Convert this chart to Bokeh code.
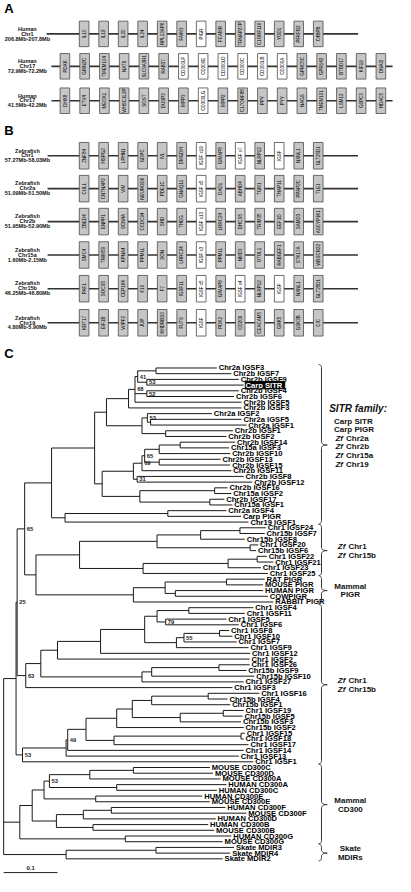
import math
from bokeh.plotting import figure
from bokeh.models import Range1d
from bokeh.layouts import column
from bokeh.core.properties import value
from bokeh.embed import file_html
from bokeh.resources import INLINE

# ---------------- Panel A data (human loci) ----------------
A_row_labels = [["Human", "Chr1", "206.8Mb-207.8Mb"],
                ["Human", "Chr17", "72.9Mb-72.2Mb"],
                ["Human", "Chr17", "41.5Mb-42.2Mb"]]
A_genes = [
    ["IL10", "IL19", "IL20", "IL24", "RPL13AP6", "FAIM3", "PIGR", "FCAMR",
     "TRNAP27P", "C1ORF116", "YOD1", "PFKFB2", "C4BPB"],
    ["PDXK", "GRIN2C", "TMEM104", "NAT9", "SLC9A3R1", "RAB37", "CD300LF", "CD300E",
     "CD300LD", "CD300C", "CD300LB", "CD300A", "GPRC5C", "GPR142", "BTBD17", "KIF19", "DNAI2"],
    ["DHX8", "ETV4", "MEOX1", "WHSC1L2P", "SOST", "DUSP3", "MPP3", "CD300LG", "MPP2",
     "C17ORF88", "PPY", "PYY", "NAGS", "TMEM101", "LSM12", "G6PC3", "HDAC5"],
]
A_white = [["PIGR"],
           ["CD300LF", "CD300E", "CD300LD", "CD300C", "CD300LB", "CD300A"],
           ["CD300LG"]]

# ---------------- Panel B data (zebrafish loci) ----------------
B_row_labels = [["Zebrafish", "Chr1", "57.27Mb-58.03Mb"],
                ["Zebrafish", "Chr2a", "51.09Mb-51.50Mb"],
                ["Zebrafish", "Chr2b", "51.95Mb-52.90Mb"],
                ["Zebrafish", "Chr15a", "1.60Mb-2.15Mb"],
                ["Zebrafish", "Chr15b", "46.25Mb-46.80Mb"],
                ["Zebrafish", "Chr19", "4.80Mb-5.90Mb"]]
B_genes = [
    ["ZNF84", "HSPG2", "LPHN1", "GDPC", "IVL", "DMGDH", "IGSF x19", "GIMAP8", "IGSF x7",
     "NLRP12", "IGSF", "NXNL1", "GLT25D1"],
    ["CUL1", "CNTNAP2", "VIM", "NEUROD6", "PDE1C", "GNAQ11", "IGSF x5", "DAD1", "ABHD4",
     "TGM1", "THAP11", "PPAP2C", "TLE1"],
    ["ZBED4", "ENPP1", "SCN4A", "CCDC94", "SHD", "THEG", "IGSF x13", "LRRC24", "DHCS5",
     "TRIM35", "EEF1D", "SAMD3", "ASCYP1K1"],
    ["SMC4", "TRIM59", "KPNA4", "PPM1L", "SON", "LRRC24", "IGSF x3", "PPM1L", "NMD3",
     "OTOL1", "RABGEF1", "STK17A", "WBSCR22"],
    ["PAF1", "SOCS5", "CEP164", "F10", "F7", "IGSF11", "IGSF x5", "GIMAP8", "IGSF x4",
     "NLRP12", "IGSF", "NXNL1", "GLT25D1"],
    ["KRT17", "EIF1B", "WIPF2", "JUP", "KHDRBS3", "FUT9", "IGSF", "PDK2", "CD209",
     "CEACAM5", "GRK5", "GSK3B", "CIC"],
]
B_white = [["IGSF x19", "IGSF x7", "IGSF"], ["IGSF x5"], ["IGSF x13"], ["IGSF x3"],
           ["IGSF x5", "IGSF x4", "IGSF"], ["IGSF"]]

# ---------------- Panel C data (neighbour-joining tree) ----------------
leaf_names = [
    "Chr2a IGSF3", "Chr2b IGSF7", "Chr2b IGSF9", "Carp SITR", "Chr2b IGSF4", "Chr2b IGSF6",
    "Chr2b IGSF5", "Chr2b IGSF3",
    "Chr2a IGSF2", "Chr2a IGSF5", "Chr2a IGSF1", "Chr2b IGSF1", "Chr2b IGSF2",
    "Chr2b IGSF14", "Chr15a IGSF3", "Chr2b IGSF10", "Chr2b IGSF13", "Chr2b IGSF15",
    "Chr2b IGSF11", "Chr2b IGSF8", "Chr2b IGSF12",
    "Chr2b IGSF16", "Chr15a IGSF2", "Chr2b IGSF17", "Chr15a IGSF1", "Chr2a IGSF4",
    "Carp PIGR", "Chr19 IGSF1",
    "Chr1 IGSF24", "Chr15b IGSF7", "Chr15b IGSF8", "Chr1 IGSF20", "Chr15b IGSF6",
    "Chr1 IGSF22", "Chr1 IGSF21", "Chr1 IGSF23", "Chr1 IGSF25",
    "RAT PIGR", "MOUSE PIGR", "HUMAN PIGR", "COWPIGR", "RABBIT PIGR",
    "Chr1 IGSF4", "Chr1 IGSF11", "Chr1 IGSF5", "Chr1 IGSF6", "Chr1 IGSF8", "Chr1 IGSF10",
    "Chr1 IGSF7", "Chr1 IGSF9", "Chr1 IGSF12", "Chr1 IGSF2",
    "Chr1 IGSF26", "Chr15b IGSF9", "Chr15b IGSF10", "Chr1 IGSF27", "Chr1 IGSF3",
    "Chr1 IGSF16", "Chr15b IGSF4", "Chr15b IGSF1", "Chr1 IGSF19", "Chr15b IGSF5",
    "Chr15b IGSF3", "Chr15b IGSF2",
    "Chr1 IGSF15", "Chr1 IGSF18", "Chr1 IGSF17", "Chr1 IGSF14", "Chr1 IGSF13", "Chr1 IGSF1",
    "MOUSE CD300C", "MOUSE CD300D", "MOUSE CD300A", "HUMAN CD300A", "HUMAN CD300C",
    "HUMAN CD300E", "MOUSE CD300E",
    "HUMAN CD300F", "MOUSE CD300F", "HUMAN CD300D", "HUMAN CD300B", "MOUSE CD300B",
    "HUMAN CD300G", "MOUSE CD300G",
    "Skate MDIR3", "Skate MDIR4", "Skate MDIR2"]
leaf_depth = [
    0.396, 0.423, 0.437, 0.446, 0.437, 0.428, 0.442, 0.442,
    0.387, 0.442, 0.451, 0.426, 0.414,
    0.430, 0.419, 0.421, 0.403, 0.421, 0.423, 0.446, 0.462,
    0.416, 0.423, 0.410, 0.425, 0.414, 0.441, 0.455,
    0.487, 0.485, 0.448, 0.473, 0.469, 0.489, 0.501, 0.478, 0.491,
    0.485, 0.482, 0.482, 0.491, 0.501,
    0.464, 0.448, 0.414, 0.437, 0.419, 0.425, 0.433, 0.455, 0.458, 0.457,
    0.457, 0.451, 0.466, 0.446, 0.425,
    0.475, 0.416, 0.421, 0.446, 0.444, 0.441, 0.446,
    0.448, 0.446, 0.455, 0.446, 0.437, 0.464,
    0.383, 0.389, 0.403, 0.414, 0.396, 0.369, 0.383,
    0.412, 0.451, 0.394, 0.380, 0.391, 0.423, 0.407,
    0.428, 0.421, 0.407]
leaf_parent = [
    "n1a", "n1a", "n53a", "n53a", "n52", "n52", "n68", "nU",
    "n53b", "n2a51", "n2a51", "n2b12", "n2b12",
    "n187a", "n187a", "n165a", "n1315", "n1315", "n69", "n31", "n31",
    "n223", "n223", "n218", "n218", "n174", "n174", "npigr",
    "n249", "n249", "n208", "n260", "n260", "n267", "n267", "n237", "n148a",
    "nmp235", "nmp235", "nmp182", "nmp182", "nmp",
    "n196", "n196", "n79", "n79", "n228", "n228", "n55", "n183", "n104", "n59",
    "n227", "n227", "n157a", "n147b", "n63",
    "n216", "n216", "n157b", "n232", "n232", "n187b", "n121",
    "n250", "n250", "n118", "n49", "n68b", "n53c",
    "ncd138", "ncd138", "ncd93", "ncd121", "ncd121", "ncd99", "ncd99",
    "ncd115", "ncd115", "ncd86", "ncd96", "ncd96", "ncd130", "ncd130",
    "nsk162", "nsk162", "nsk"]
node_id = [
    "root", "n1", "n25", "n65a", "sitr", "nup", "nX", "nU", "n68", "n41", "n1a", "n53a", "n52",
    "nL", "n53b", "n2a51", "n2b12", "n106", "nQ", "n69", "n65b", "n165a", "n187a", "n1315",
    "n31", "n145", "n223", "n218", "npigr", "n174",
    "nB", "n82", "n163a", "n208", "n249", "n260", "n148a", "n237", "n267",
    "nmp", "nmp171", "nmp235", "nmp182",
    "n63", "n42", "n59", "n104", "n150", "n163b", "n196", "n79", "n183", "n55", "n228",
    "n147b", "n157a", "n227",
    "n53c", "n68b", "n49", "n89", "n121", "n137", "n157b", "n216", "n187b", "n232",
    "n118", "n250",
    "ncd", "ncd33", "ncd45", "ncd53", "ncd93", "ncd138", "ncd121", "ncd99", "ncd58",
    "ncd86", "ncd115", "ncd96", "ncd130",
    "nsk", "nsk162"]
node_parent = [
    None, "root", "n1", "n25", "n65a", "sitr", "nup", "nX", "nU", "n68", "n41", "n41", "n68",
    "nX", "nL", "n53b", "nL", "nup", "n106", "nQ", "n69", "n65b", "n165a", "n65b",
    "nQ", "n106", "n145", "n145", "sitr", "npigr",
    "n65a", "nB", "n82", "n163a", "n208", "n163a", "n82", "n148a", "n237",
    "nB", "nmp", "nmp171", "nmp171",
    "n25", "n63", "n42", "n59", "n104", "n150", "n163b", "n163b", "n150", "n183", "n55",
    "n42", "n147b", "n157a",
    "n1", "n53c", "n68b", "n49", "n89", "n121", "n137", "n157b", "n137", "n187b",
    "n89", "n118",
    "root", "ncd", "ncd33", "ncd45", "ncd53", "ncd93", "ncd53", "ncd45", "ncd33",
    "ncd58", "ncd86", "ncd58", "ncd",
    "root", "nsk"]
node_depth = [
    0.0, 0.023, 0.025, 0.039, 0.089, 0.169, 0.191, 0.232, 0.244, 0.249, 0.283, 0.266, 0.266,
    0.257, 0.267, 0.273, 0.301, 0.183, 0.241, 0.257, 0.262, 0.289, 0.328, 0.289,
    0.248, 0.253, 0.392, 0.383, 0.114, 0.305,
    0.060, 0.141, 0.285, 0.366, 0.439, 0.458, 0.259, 0.417, 0.471,
    0.241, 0.300, 0.414, 0.319,
    0.041, 0.069, 0.100, 0.180, 0.262, 0.285, 0.344, 0.301, 0.321, 0.335, 0.401,
    0.257, 0.275, 0.400,
    0.035, 0.116, 0.119, 0.153, 0.210, 0.239, 0.275, 0.380, 0.328, 0.408,
    0.205, 0.441,
    0.030, 0.053, 0.075, 0.085, 0.160, 0.241, 0.210, 0.171, 0.098,
    0.148, 0.200, 0.166, 0.226,
    0.116, 0.283]
node_support = {"n25": 25, "n65a": 65, "n68": 68, "n41": 41, "n53a": 53, "n52": 52,
                "n53b": 53, "n69": 69, "n65b": 65, "n31": 31, "n63": 63, "n79": 79,
                "n55": 55, "n53c": 53, "n49": 49, "ncd53": 53}

clade_first = [0, 28, 37, 42, 70, 84]
clade_last = [27, 36, 41, 69, 83, 86]
clade_lines = [["Carp SITR", "Carp PIGR", "Zf Chr2a", "Zf Chr2b", "Zf Chr15a", "Zf Chr19"],
               ["Zf Chr1", "Zf Chr15b"],
               ["Mammal", "PIGR"],
               ["Zf Chr1", "Zf Chr15b"],
               ["Mammal", "CD300"],
               ["Skate", "MDIRs"]]
clade_heading = "SITR family:"
highlight_leaf = "Carp SITR"
scale_bar = 0.1

# ---------------- common settings ----------------
FONT = value("Liberation Sans")
W = 395
H_AB = 339
H_C = 537


def new_fig(h, xr, yr):
    p = figure(width=W, height=h, x_range=xr, y_range=yr, output_backend="svg",
               toolbar_location=None, min_border=0, x_axis_type=None, y_axis_type=None,
               outline_line_color=None, background_fill_color="white",
               border_fill_color="white")
    p.xgrid.visible = False
    p.ygrid.visible = False
    return p


# ================= Panels A and B =================
pab = new_fig(H_AB, Range1d(0, 411), Range1d(345, 0))

A_geom = [(34, 48, 372, 87, 20.3), (67, 53, 408, 67, 20.55), (102, 53, 408, 67, 20.55)]
B_lines_y = [158, 191.5, 225, 259, 293.3, 328]
B_geom = [(y, 49, 372, 87, 20.3) for y in B_lines_y]

rows = []
for labels, genes, white, g in zip(A_row_labels, A_genes, A_white, A_geom):
    rows.append((labels, genes, white, g, 26))
for labels, genes, white, g in zip(B_row_labels, B_genes, B_white, B_geom):
    rows.append((labels, genes, white, g, 27))

lx0, lx1, ly = [], [], []
bx, by, bh, bfill = [], [], [], []
gx, gy, gt = [], [], []
rx, ry, rt = [], [], []
for labels, genes, white, (yl, x0, x1, c0, step), hgt in rows:
    lx0.append(x0); lx1.append(x1); ly.append(yl)
    for k, gname in enumerate(genes):
        cx = c0 + k * step
        bx.append(cx); by.append(yl); bh.append(hgt)
        bfill.append("white" if gname in white else "#c6c6c6")
        gx.append(cx + 0.2); gy.append(yl); gt.append(gname)
    for j, t in enumerate(labels):
        rx.append(28); ry.append(yl - 5.3 + 5 * j); rt.append(t)

pab.segment(x0=lx0, y0=ly, x1=lx1, y1=ly, line_color="#333333", line_width=1.6)
pab.rect(x=bx, y=by, width=10, height=bh, fill_color=bfill, line_color="#4a4a4a",
         line_width=0.8)
pab.text(x=gx, y=gy, text=gt, angle=math.pi / 2, text_font=FONT,
         text_font_size=value("4.5px"), text_align="center", text_baseline="middle",
         text_color="black")
pab.text(x=rx, y=ry, text=rt, text_font=FONT, text_font_style="bold",
         text_font_size=value("5.5px"), text_align="center", text_baseline="middle",
         text_color="#111111")
pab.text(x=[4, 4], y=[8.5, 132.5], text=["A", "B"], text_font=FONT, text_font_style="bold",
         text_font_size=value("13px"), text_align="left", text_baseline="middle",
         text_color="black")

# ================= Panel C (tree) =================
X0_PX, PX_PER_UNIT = 3.3, 560.0      # root position and scale-bar scale (layout)
Y0_PX, PX_PER_LEAF = 374.0, 5.814    # first leaf position and leaf spacing (layout)
xr = Range1d(-X0_PX / PX_PER_UNIT, (411 - X0_PX) / PX_PER_UNIT)
yr = Range1d(start=(892 - Y0_PX) / PX_PER_LEAF, end=(345 - Y0_PX) / PX_PER_LEAF)
pc = new_fig(H_C, xr, yr)


def dpx(px):  # layout helper: ref-pixel x -> depth units
    return (px - X0_PX) / PX_PER_UNIT


def ipx(py):  # layout helper: ref-pixel y -> leaf-index units
    return (py - Y0_PX) / PX_PER_LEAF


depth = dict(zip(node_id, node_depth))
parent = dict(zip(node_id, node_parent))
children = {n: [] for n in node_id}
for i, par in enumerate(leaf_parent):
    children[par].append(("leaf", i))
for n, par in zip(node_id, node_parent):
    if par is not None:
        children[par].append(("node", n))

ypos = {}
span = {}


def place(kind, key):
    if kind == "leaf":
        return float(key)
    ys = [place(k, c) for k, c in children[key]]
    span[key] = (min(ys), max(ys))
    ypos[key] = (min(ys) + max(ys)) / 2.0
    return ypos[key]


place("node", "root")

sx0, sy0, sx1, sy1 = [], [], [], []
for i, par in enumerate(leaf_parent):
    sx0.append(depth[par]); sx1.append(leaf_depth[i]); sy0.append(i); sy1.append(i)
for n in node_id:
    if parent[n] is not None:
        sx0.append(depth[parent[n]]); sx1.append(depth[n])
        sy0.append(ypos[n]); sy1.append(ypos[n])
    lo, hi = span[n]
    sx0.append(depth[n]); sx1.append(depth[n]); sy0.append(lo); sy1.append(hi)
pc.segment(x0=sx0, y0=sy0, x1=sx1, y1=sy1, line_color="#1a1a1a", line_width=1.0)

# leaf labels
hl = leaf_names.index(highlight_leaf)
tx = [d + 0.0035 for d in leaf_depth]
ty = list(range(len(leaf_names)))
tc = ["white" if i == hl else "black" for i in ty]
pc.quad(left=[leaf_depth[hl] + 0.003], right=[leaf_depth[hl] + 0.003 + dpx(41) - dpx(0)],
        top=[hl - 0.65], bottom=[hl + 0.65], fill_color="black", line_color="black")
pc.text(x=tx, y=ty, text=leaf_names, text_color=tc, text_font=FONT, text_font_style="bold",
        text_font_size=value("7.6px"), text_align="left", text_baseline="middle")

# bootstrap support values
bsx, bsy, bst = [], [], []
for n, v in node_support.items():
    bsx.append(depth[n] + 0.004); bsy.append(ypos[n]); bst.append(str(v))
pc.text(x=bsx, y=bsy, text=bst, text_font=FONT, text_font_style="bold",
        text_font_size=value("5.8px"), text_align="left", text_baseline="middle",
        text_color="#222222")

# clade braces
bxl = dpx(334)
bw = dpx(331) - dpx(334)
btip = dpx(340) - dpx(334)
hh = 0.6


def qbez(p0, c, p1, n=10):
    pts = []
    for k in range(n + 1):
        t = k / n
        pts.append(((1 - t) ** 2 * p0[0] + 2 * (1 - t) * t * c[0] + t * t * p1[0],
                    (1 - t) ** 2 * p0[1] + 2 * (1 - t) * t * c[1] + t * t * p1[1]))
    return pts


bxs, bys = [], []
for f, l in zip(clade_first, clade_last):
    yt, yb = f - 0.6, l + 0.35
    ym = (f + l) / 2.0
    pts = []
    pts += qbez((bxl + bw, yt), (bxl, yt), (bxl, yt + hh))
    pts += qbez((bxl, ym - hh), (bxl, ym), (bxl + btip, ym))
    pts += qbez((bxl + btip, ym), (bxl, ym), (bxl, ym + hh))
    pts += qbez((bxl, yb - hh), (bxl, yb), (bxl + bw, yb))
    bxs.append([p[0] for p in pts]); bys.append([p[1] for p in pts])
pc.multi_line(xs=bxs, ys=bys, line_color="#333333", line_width=1.0)

# clade texts
LS = 9.0 / PX_PER_LEAF
ctx, cty, ctt, ctst = [], [], [], []   # plain lines
zx, zy, zt = [], [], []                # "Zf" italic prefixes
for g, (f, l, lines) in enumerate(zip(clade_first, clade_last, clade_lines)):
    ym = (f + l) / 2.0
    n = len(lines)
    if g == 0:
        ys = [ym - 4.2 + 1.51 * k for k in range(n)]
    else:
        ys = [ym + (k - (n - 1) / 2.0) * LS for k in range(n)]
    for t, yv in zip(lines, ys):
        if t.startswith("Zf "):
            xl = dpx(348.5) if g == 0 else dpx(351)
            zx.append(xl); zy.append(yv); zt.append("Zf")
            ctx.append(xl + dpx(11) - dpx(0)); cty.append(yv); ctt.append(t[3:])
            ctst.append("left")
        elif g == 0:
            ctx.append(dpx(347)); cty.append(yv); ctt.append(t); ctst.append("left")
        else:
            ctx.append(dpx(364)); cty.append(yv); ctt.append(t); ctst.append("center")
left_idx = [i for i, a in enumerate(ctst) if a == "left"]
cen_idx = [i for i, a in enumerate(ctst) if a == "center"]
pc.text(x=[ctx[i] for i in left_idx], y=[cty[i] for i in left_idx],
        text=[ctt[i] for i in left_idx], text_font=FONT, text_font_style="bold",
        text_font_size=value("8px"), text_align="left", text_baseline="middle",
        text_color="#111111")
pc.text(x=[ctx[i] for i in cen_idx], y=[cty[i] for i in cen_idx],
        text=[ctt[i] for i in cen_idx], text_font=FONT, text_font_style="bold",
        text_font_size=value("8px"), text_align="center", text_baseline="middle",
        text_color="#111111")
pc.text(x=zx, y=zy, text=zt, text_font=FONT, text_font_style="bold italic",
        text_font_size=value("8px"), text_align="left", text_baseline="middle",
        text_color="#111111")
pc.text(x=[dpx(342)], y=[(clade_first[0] + clade_last[0]) / 2.0 - 6.45],
        text=[clade_heading], text_font=FONT, text_font_style="bold italic",
        text_font_size=value("10px"), text_align="left", text_baseline="middle",
        text_color="#111111")

# scale bar
sb_y = ipx(888)
pc.segment(x0=[0], y0=[sb_y], x1=[scale_bar], y1=[sb_y], line_color="#222222", line_width=1)
pc.text(x=[scale_bar / 2], y=[ipx(883.5)], text=[str(scale_bar)], text_font=FONT,
        text_font_style="bold", text_font_size=value("6px"), text_align="center",
        text_baseline="middle", text_color="#222222")

# panel letter C
pc.text(x=[dpx(4)], y=[ipx(359)], text=["C"], text_font=FONT, text_font_style="bold",
        text_font_size=value("13px"), text_align="left", text_baseline="middle",
        text_color="black")

layout = column(pab, pc, spacing=0)
open("out.html", "w").write(file_html(layout, INLINE))
